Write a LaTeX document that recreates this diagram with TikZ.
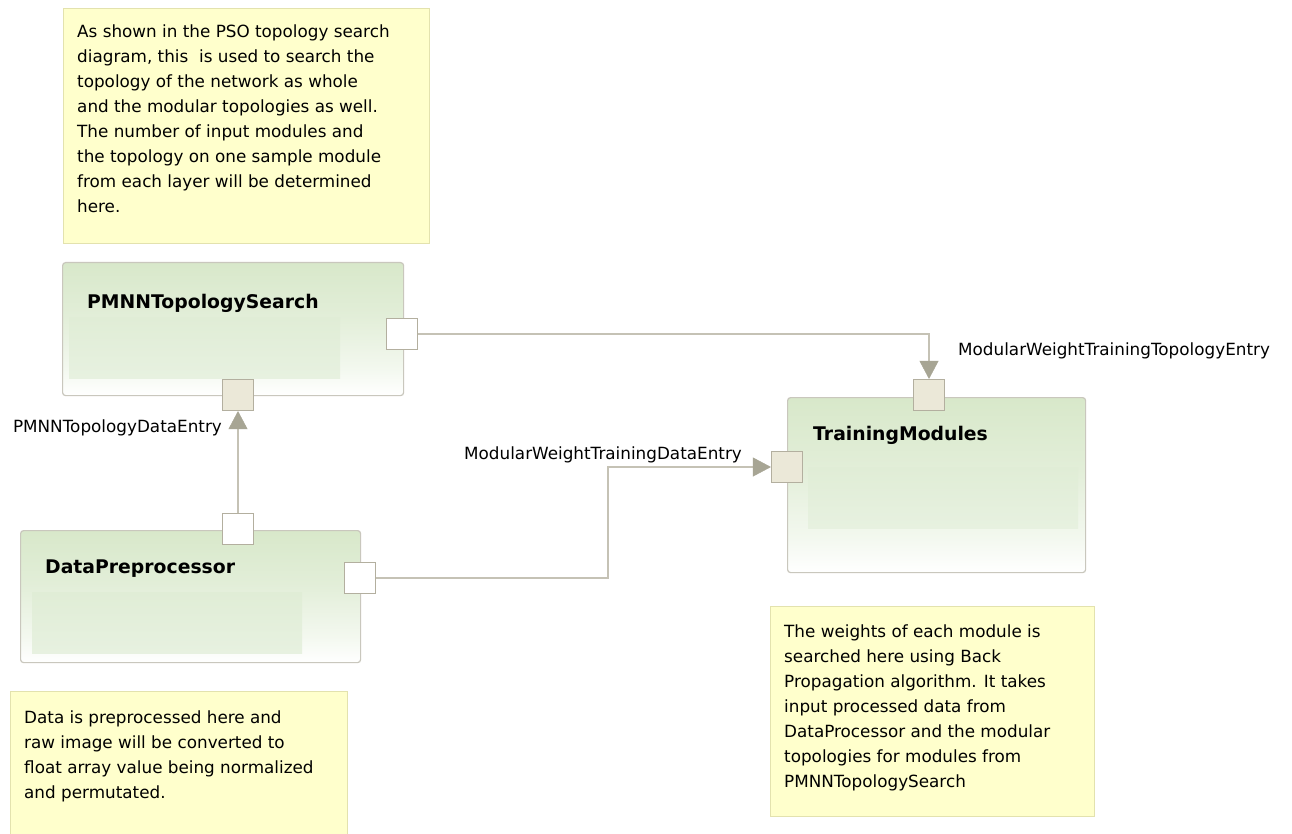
\documentclass[tikz,border=0pt]{standalone}
\usepackage{fontspec}
\setmainfont{DejaVu Sans}
\usetikzlibrary{arrows.meta}

\definecolor{compline}{HTML}{C9C7BD}
\definecolor{compA}{HTML}{D8E8CA}
\definecolor{compB}{HTML}{E2EED8}
\definecolor{compC}{HTML}{F3F8EF}
\definecolor{innerTop}{HTML}{E0EDD6}
\definecolor{innerBot}{HTML}{E7F1E0}
\definecolor{portline}{HTML}{B3AF9F}
\definecolor{portfill}{HTML}{EBE8D8}
\definecolor{connline}{HTML}{C5C2B5}
\definecolor{tipcolor}{HTML}{A7A594}
\definecolor{notefill}{HTML}{FFFFCC}
\definecolor{noteline}{HTML}{E3E2AE}

% component body: green at the top, fading to white towards the bottom
\pgfdeclareverticalshading{compfill}{100bp}{%
  color(0bp)=(white); color(25bp)=(white); color(35bp)=(compC);
  color(55bp)=(compB); color(75bp)=(compA); color(100bp)=(compA)}

\begin{document}
\begin{tikzpicture}[x=1pt,y=-1pt,
  comp/.style={draw=compline, line width=1.2pt, rounded corners=3pt,
    shading=compfill, anchor=north west, inner sep=0pt},
  compbody/.style={top color=innerTop, bottom color=innerBot,
    anchor=north west, inner sep=0pt},
  comptitle/.style={font=\bfseries\fontsize{18.8}{22}\selectfont,
    anchor=base west, inner sep=0pt},
  port/.style={draw=portline, line width=1.2pt, minimum size=31pt, inner sep=0pt},
  outport/.style={port, fill=white},
  inport/.style={port, fill=portfill},
  conn/.style={draw=connline, line width=2pt,
    -{Triangle[length=18pt,width=19pt,color=tipcolor,line width=0.4pt]}},
  connlabel/.style={font=\fontsize{16.8}{25}\selectfont, inner sep=0pt},
  note/.style={draw=noteline, fill=notefill, line width=1.2pt,
    anchor=north west, inner sep=0pt},
  % anchored at the baseline of the last line; lines are 25pt apart
  notetext/.style={font=\fontsize{16.8}{25}\selectfont, align=left,
    anchor=base west, inner sep=0pt}]

\clip (0,0) rectangle (1292,834);
\fill[white] (0,0) rectangle (1292,834);

% notes
\node[note, minimum width=366pt, minimum height=235pt] (noteSearch) at (63,8) {};
\node[notetext] (noteSearchText) at (77,213) {As shown in the PSO topology search\\
diagram, this\ \ is used to search the\\
topology of the network as whole\\
and the modular topologies as well.\\
The number of input modules and\\
the topology on one sample module\\
from each layer will be determined\\
here.};

\node[note, minimum width=337pt, minimum height=170pt] (notePrep) at (10,691) {};
\node[notetext] (notePrepText) at (24,798) {Data is preprocessed here and\\
raw image will be converted to\\
float array value being normalized\\
and permutated.};

\node[note, minimum width=324pt, minimum height=210pt] (noteTrain) at (770,606) {};
\node[notetext] (noteTrainText) at (784,787) {The weights of each module is\\
searched here using Back\\
Propagation algorithm. It takes\\
input processed data from\\
DataProcessor and the modular\\
topologies for modules from\\
PMNNTopologySearch};

% components
\node[comp, minimum width=341pt, minimum height=133pt] (pmnn) at (62,262) {};
\node[compbody, minimum width=271pt, minimum height=61pt] (pmnnBody) at (69,317) {};
\node[comptitle] (pmnnTitle) at (87,308) {PMNNTopologySearch};

\node[comp, minimum width=340pt, minimum height=132pt] (prep) at (20,530) {};
\node[compbody, minimum width=270pt, minimum height=61pt] (prepBody) at (32,592) {};
\node[comptitle] (prepTitle) at (45,573) {DataPreprocessor};

\node[comp, minimum width=298pt, minimum height=175pt] (train) at (787,397) {};
\node[compbody, minimum width=270pt, minimum height=61pt] (trainBody) at (808,467) {};
\node[comptitle] (trainTitle) at (813,440) {TrainingModules};

% ports
\node[outport] (pmnnOut) at (402,334) {};
\node[inport]  (pmnnIn)  at (238,395) {};
\node[outport] (prepTop) at (238,529) {};
\node[outport] (prepOut) at (360,578) {};
\node[inport]  (trainTop)  at (929,395) {};
\node[inport]  (trainLeft) at (787,467) {};

% connectors
\coordinate (bend) at (608,0);
\draw[conn] (pmnnOut.east) -| (trainTop.north);
\draw[conn] (prepTop.north) -- (pmnnIn.south);
\draw[conn] (prepOut.east) -- (bend |- prepOut) -- (bend |- trainLeft) -- (trainLeft.west);

% connector labels
\node[connlabel, anchor=base east] (lblPmnnEntry) at (222,432) {PMNNTopologyDataEntry};
\node[connlabel, anchor=base west] (lblDataEntry) at (464,459) {ModularWeightTrainingDataEntry};
\node[connlabel, anchor=base west] (lblTopoEntry) at (958,355) {ModularWeightTrainingTopologyEntry};

\end{tikzpicture}
\end{document}
